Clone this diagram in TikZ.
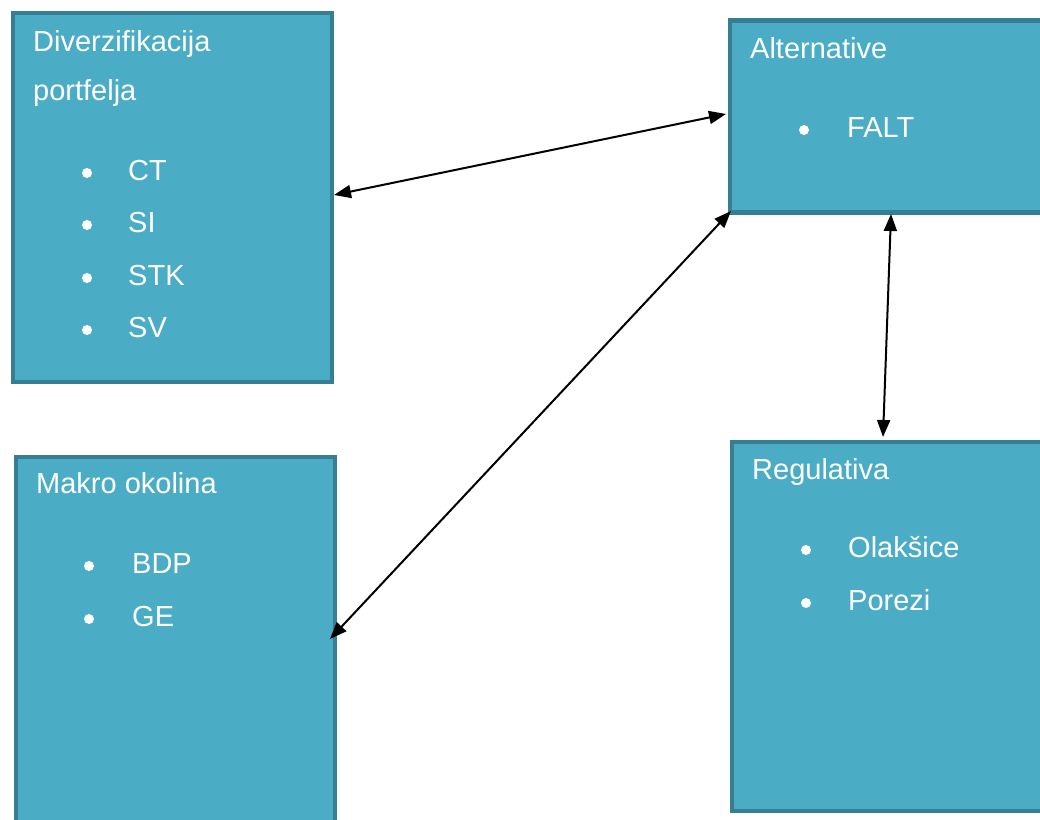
\documentclass[tikz,border=0pt]{standalone}
\usepackage{fontspec}
\setmainfont{Liberation Sans}
\usetikzlibrary{arrows.meta}
\definecolor{boxfill}{HTML}{4BACC6}
\definecolor{boxline}{HTML}{367F92}
\tikzset{
  box/.style={draw=boxline, fill=boxfill, line width=4.5pt, rectangle, inner sep=0pt, anchor=north west},
  lbl/.style={text=white, inner sep=0pt, anchor=base west, font=\fontsize{29}{35}\selectfont},
  bul/.style={fill=white, circle, inner sep=0pt, minimum size=10pt, draw=none},
  link/.style={line width=2pt, {Triangle[length=17pt,width=13pt]}-{Triangle[length=17pt,width=13pt]}}
}
\begin{document}
\begin{tikzpicture}[x=1pt,y=-1pt]
\useasboundingbox (0,0) rectangle (1040,819);
\clip (0,0) rectangle (1040,819);
\node[box, minimum width=319pt, minimum height=369pt] (div) at (10.5,10.5) {};
\node[box, minimum width=340pt, minimum height=192pt] (alt) at (727.5,18) {};
\node[box, minimum width=340pt, minimum height=369pt] (reg) at (729.5,439.5) {};
\node[box, minimum width=319pt, minimum height=390pt] (mak) at (13.5,454.5) {};
% texts
\node[lbl] (t1) at (33,51) {Diverzifikacija};
\node[lbl] (t1b) at (33,100) {portfelja};
\node[bul] (b11) at (87,173) {}; \node[lbl] (i11) at (128,180) {CT};
\node[bul] (b12) at (87,225) {}; \node[lbl] (i12) at (128,232) {SI};
\node[bul] (b13) at (87,278) {}; \node[lbl] (i13) at (128,285) {STK};
\node[bul] (b14) at (87,330) {}; \node[lbl] (i14) at (128,337) {SV};
\node[lbl] (t2) at (750,58) {Alternative};
\node[bul] (b21) at (804,130) {}; \node[lbl] (i21) at (847,137) {FALT};
\node[lbl] (t3) at (752,479) {Regulativa};
\node[bul] (b31) at (806,550) {}; \node[lbl] (i31) at (848,557) {Olakšice};
\node[bul] (b32) at (806,603) {}; \node[lbl] (i32) at (848,610) {Porezi};
\node[lbl] (t4) at (36,493) {Makro okolina};
\node[bul] (b41) at (89,566) {}; \node[lbl] (i41) at (132,573) {BDP};
\node[bul] (b42) at (89,619) {}; \node[lbl] (i42) at (132,626) {GE};
% connector ends
\coordinate (a1s) at (334,195);
\coordinate (a1e) at (726,114);
\coordinate (a2s) at (731,211);
\coordinate (a2e) at (330,639);
\coordinate (a3s) at (891,214);
\coordinate (a3e) at (883,437);
\draw[link] (a1s) -- (a1e);
\draw[link] (a2s) -- (a2e);
\draw[link] (a3s) -- (a3e);
\end{tikzpicture}
\end{document}
